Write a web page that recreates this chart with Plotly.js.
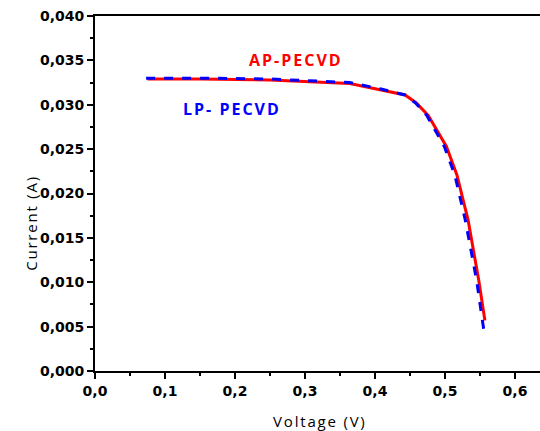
<!DOCTYPE html>
<html><head><meta charset="utf-8">
<script src="https://cdn.plot.ly/plotly-3.0.1.min.js"></script>
<style>
body{margin:0;background:#fff}#c{width:540px;height:431px}
.annotation[data-index="0"] text, .annotation[data-index="1"] text {letter-spacing:2px}
.annotation[data-index="2"] text, .annotation[data-index="3"] text {letter-spacing:1.8px}
</style>
</head><body><div id="c"></div>
<script>
// AP-PECVD (red solid)
const apVoltage = [0.075, 0.15, 0.25, 0.364, 0.407, 0.443, 0.459, 0.476, 0.502, 0.517, 0.533, 0.548, 0.557];
const apCurrent = [0.0329, 0.0329, 0.0328, 0.0324, 0.0317, 0.0311, 0.0302, 0.0288, 0.0253, 0.0221, 0.0170, 0.0103, 0.0057];
// LP-PECVD (blue dashed)
const lpVoltage = [0.073, 0.15, 0.25, 0.364, 0.407, 0.443, 0.458, 0.474, 0.499, 0.514, 0.529, 0.545, 0.556];
const lpCurrent = [0.0330, 0.0330, 0.0329, 0.0325, 0.0318, 0.0311, 0.0302, 0.0288, 0.0253, 0.0221, 0.0170, 0.0103, 0.0043];

const labels = ["AP-PECVD", "LP- PECVD"];
const xTitle = "Voltage (V)";
const yTitle = "Current (A)";
const xTickVals = [0, 0.1, 0.2, 0.3, 0.4, 0.5, 0.6];
const xTickText = ["0,0","0,1","0,2","0,3","0,4","0,5","0,6"];
const yTickVals = [0, 0.005, 0.01, 0.015, 0.02, 0.025, 0.03, 0.035, 0.04];
const yTickText = ["0,000","0,005","0,010","0,015","0,020","0,025","0,030","0,035","0,040"];

const tickFont = {family: "DejaVu Sans", size: 14, color: "#000", weight: "bold"};
const traces = [
  {x: apVoltage, y: apCurrent, mode: "lines", line: {color: "#ff0000", width: 3}, name: labels[0]},
  {x: lpVoltage, y: lpCurrent, mode: "lines", line: {color: "#0000ff", width: 3, dash: "dash"}, name: labels[1]}
];
const layout = {
  width: 540, height: 431,
  margin: {l: 95, r: 0, t: 16, b: 60},
  showlegend: false,
  plot_bgcolor: "#fff", paper_bgcolor: "#fff",
  xaxis: {
    range: [0, 0.6357], tickvals: xTickVals, ticktext: xTickText,
    ticks: "outside", ticklen: 6, tickwidth: 2, tickcolor: "#000",
    minor: {dtick: 0.05, ticks: "outside", ticklen: 3, tickwidth: 2, tickcolor: "#000", showgrid: false},
    showline: true, linewidth: 2, linecolor: "#000", mirror: true,
    showgrid: false, zeroline: false, tickfont: tickFont
  },
  yaxis: {
    range: [0, 0.040], tickvals: yTickVals, ticktext: yTickText,
    ticks: "outside", ticklen: 6, tickwidth: 2, tickcolor: "#000",
    minor: {dtick: 0.0025, ticks: "outside", ticklen: 3, tickwidth: 2, tickcolor: "#000", showgrid: false},
    showline: true, linewidth: 2, linecolor: "#000", mirror: false,
    showgrid: false, zeroline: false, tickfont: tickFont
  },
  annotations: [
    {x: 0.287, y: 0.0350, text: labels[0], showarrow: false, font: {family: "Open Sans", size: 16, color: "#ff0000", weight: "bold"}},
    {x: 0.195, y: 0.0295, text: labels[1], showarrow: false, font: {family: "Open Sans", size: 16, color: "#0000ff", weight: "bold"}},
    {xref: "paper", yref: "paper", x: 0.506, y: 0, yanchor: "middle", yshift: -50, text: xTitle, showarrow: false,
     font: {family: "Open Sans", size: 15, color: "#000"}},
    {xref: "paper", yref: "paper", x: 0, xshift: -76, y: 0.417, textangle: -90, text: yTitle, showarrow: false,
     font: {family: "Open Sans", size: 15, color: "#000"}}
  ]
};
Plotly.newPlot("c", traces, layout, {displayModeBar: false, staticPlot: true});
</script></body></html>
